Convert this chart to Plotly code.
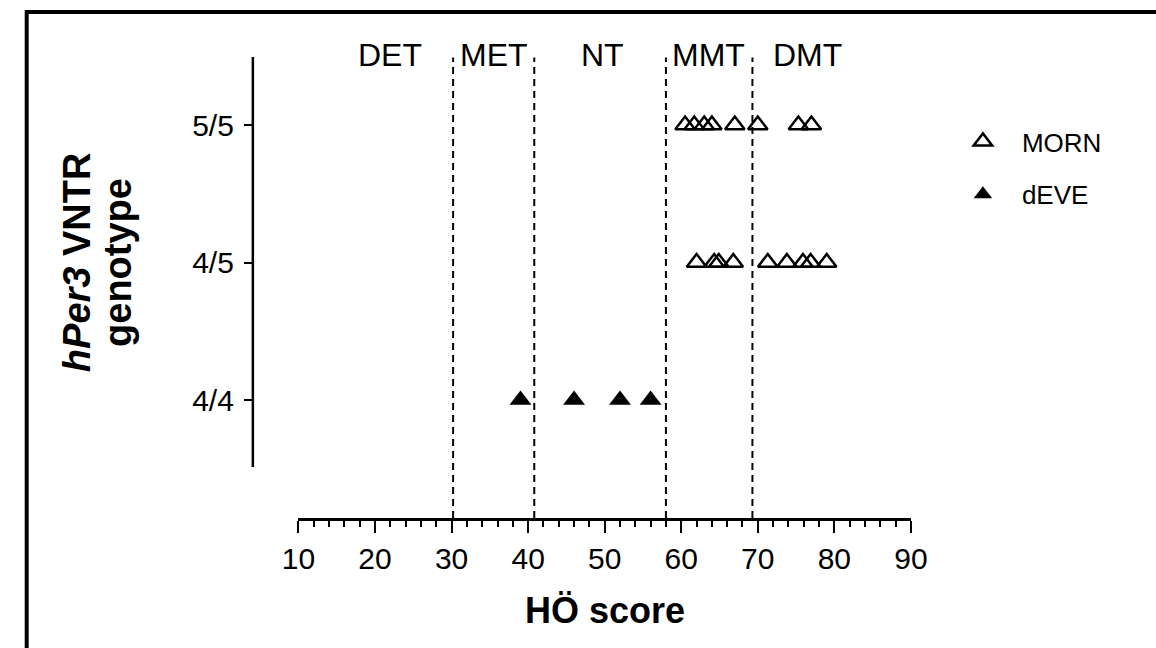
import plotly.graph_objects as go

W, H = 1156, 648

# ---- data ----
genotype_ticks = [0, 1, 2]
genotype_labels = ["4/4", "4/5", "5/5"]

morn_55 = [60.5, 61.7, 63.0, 64.0, 67.0, 70.0, 75.3, 77.0]
morn_45 = [62.0, 64.3, 64.9, 66.8, 71.3, 73.8, 75.9, 76.9, 79.0]
deve_44 = [39.0, 46.0, 52.0, 56.0]

cutoffs = [30.2, 40.8, 58.0, 69.3]
chrono_labels = ["DET", "MET", "NT", "MMT", "DMT"]
chrono_label_x = [21.9, 35.5, 49.7, 63.5, 76.5]

x_ticks = list(range(10, 91, 10))

# ---- geometry (pixels -> paper) ----
def px(x):
    return x / W

def py(y):
    return 1 - y / H

font = "Liberation Sans, Arial, sans-serif"

fig = go.Figure()

fig.add_trace(go.Scatter(
    x=morn_55 + morn_45,
    y=[2] * len(morn_55) + [1] * len(morn_45),
    mode="markers", name="MORN", legendgroup="a",
    marker=dict(symbol="triangle-up-open", size=17, color="black",
                line=dict(color="black", width=2.5)),
))
fig.add_trace(go.Scatter(
    x=deve_44, y=[0] * len(deve_44),
    mode="markers", name="dEVE", legendgroup="b",
    marker=dict(symbol="triangle-up", size=19, color="black",
                line=dict(color="black", width=0)),
))

shapes = []
for c in cutoffs:
    shapes.append(dict(type="line", xref="x", yref="y", x0=c, x1=c,
                       y0=-0.858, y1=2.49,
                       line=dict(color="black", width=2, dash="7px,5px")))
# y axis line (offset GraphPad style)
shapes.append(dict(type="line", xref="paper", yref="y",
                   x0=px(243), x1=px(243), y0=-0.487, y1=2.4945,
                   line=dict(color="black", width=2.5)))
# outer frame
shapes.append(dict(type="rect", xref="paper", yref="paper",
                   x0=px(10), x1=1.2, y0=-0.2, y1=py(12),
                   line=dict(color="black", width=4)))

annotations = []
for lab, lx in zip(chrono_labels, chrono_label_x):
    annotations.append(dict(x=lx, y=py(55), xref="x", yref="paper",
                            text=lab, showarrow=False,
                            font=dict(family=font, size=32, color="black"),
                            xanchor="center", yanchor="middle"))
annotations.append(dict(x=px(606), y=py(610), xref="paper", yref="paper",
                        text="<b>HÖ score</b>", showarrow=False,
                        font=dict(family=font, size=36, color="black"),
                        xanchor="center", yanchor="middle"))
annotations.append(dict(x=px(62), y=py(262), xref="paper", yref="paper",
                        text="<b><i>hPer3</i> VNTR</b>",
                        showarrow=False, textangle=-90,
                        font=dict(family=font, size=38, color="black"),
                        xanchor="center", yanchor="middle"))
annotations.append(dict(x=px(104), y=py(262), xref="paper", yref="paper",
                        text="<b>genotype</b>",
                        showarrow=False, textangle=-90,
                        font=dict(family=font, size=38, color="black"),
                        xanchor="center", yanchor="middle"))

fig.update_layout(
    width=W, height=H,
    margin=dict(l=0, r=0, t=0, b=0),
    paper_bgcolor="white", plot_bgcolor="white",
    shapes=shapes, annotations=annotations,
    showlegend=True,
    legend=dict(x=px(955), y=py(118), xanchor="left", yanchor="top",
                font=dict(family=font, size=26, color="black"),
                tracegroupgap=16, itemwidth=68,
                bgcolor="rgba(0,0,0,0)"),
    xaxis=dict(domain=[px(290), px(921)], range=[10, 90],
               tickvals=x_ticks, ticks="outside", ticklen=12, tickwidth=2,
               tickcolor="black", showline=True, linecolor="black",
               linewidth=2.5, showgrid=False, zeroline=False,
               anchor="y",
               tickfont=dict(family=font, size=30, color="black"),
               minor=dict(dtick=2, ticks="outside", ticklen=6, tickwidth=2,
                          tickcolor="black", showgrid=False)),
    yaxis=dict(domain=[py(518), py(57)], range=[-0.858, 2.4945],
               tickvals=genotype_ticks, ticktext=genotype_labels,
               anchor="free", position=px(243),
               ticks="outside", ticklen=9, tickwidth=2, tickcolor="black",
               ticklabelstandoff=4,
               showline=False, showgrid=False, zeroline=False,
               tickfont=dict(family=font, size=30, color="black")),
)

fig.write_html("out.html")
